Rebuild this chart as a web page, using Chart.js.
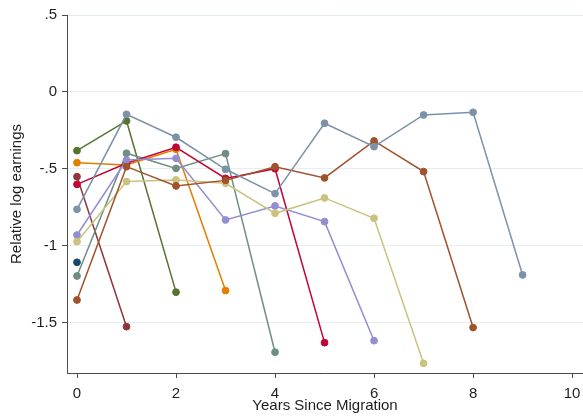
<!DOCTYPE html>
<html>
<head>
<meta charset="utf-8">
<script src="https://cdn.jsdelivr.net/npm/chart.js@4/dist/chart.umd.min.js"></script>
<style>
  html, body { margin: 0; padding: 0; background: #ffffff; }
  canvas { display: block; }
</style>
</head>
<body>
<canvas id="c" width="583" height="416"></canvas>
<script>
// Years since migration (x positions)
const years = [0, 1, 2, 3, 4, 5, 6, 7, 8, 9];

// Series values (relative log earnings), one per cohort
const navy      = [-1.106];
const maroon    = [-0.550, -1.524];
const green     = [-0.381, -0.188, -1.300];
const orange    = [-0.459, -0.474, -0.372, -1.290];
const teal      = [-1.195, -0.398, -0.496, -0.400, -1.690];
const cranberry = [-0.600, -0.463, -0.359, -0.561, -0.498, -1.628];
const lavender  = [-0.929, -0.442, -0.431, -0.831, -0.740, -0.842, -1.615];
const khaki     = [-0.972, -0.582, -0.571, -0.593, -0.788, -0.688, -0.820, -1.762];
const sienna    = [-1.351, -0.485, -0.610, -0.574, -0.485, -0.558, -0.318, -0.517, -1.530];
const emidblue  = [-0.762, -0.145, -0.294, -0.502, -0.660, -0.203, -0.355, -0.149, -0.132, -1.188];

// Tick labels
const xTicks = [0, 2, 4, 6, 8, 10];
const yTicks = [0.5, 0, -0.5, -1, -1.5];
const yTickLabels = ['.5', '0', '-.5', '-1', '-1.5'];

const seriesList = [
  { values: navy,      color: '#1a476f' },
  { values: maroon,    color: '#90353b' },
  { values: green,     color: '#55752f' },
  { values: orange,    color: '#e37e00' },
  { values: teal,      color: '#6e8e84' },
  { values: cranberry, color: '#c10534' },
  { values: lavender,  color: '#938dd2' },
  { values: khaki,     color: '#cac27e' },
  { values: sienna,    color: '#a0522d' },
  { values: emidblue,  color: '#7b92a8' }
];

const datasets = seriesList.map((s, i) => ({
  data: s.values.map((v, j) => ({ x: years[j], y: v })),
  borderColor: s.color,
  backgroundColor: s.color,
  pointBackgroundColor: s.color,
  pointBorderColor: s.color,
  borderWidth: 1.5,
  pointRadius: 3.4,
  pointBorderWidth: 1,
  tension: 0,
  clip: false,
  order: seriesList.length - i
}));

const FONT = "'Liberation Sans', Arial, sans-serif";
const TEXT = '#1e1e1e';
const AXIS = '#4a4a4a';

new Chart(document.getElementById('c'), {
  type: 'line',
  data: { datasets },
  options: {
    responsive: false,
    animation: false,
    devicePixelRatio: 1,
    layout: { autoPadding: false, padding: { top: 15, right: 0, left: 0, bottom: 0 } },
    plugins: { legend: { display: false }, tooltip: { enabled: false } },
    scales: {
      x: {
        type: 'linear',
        min: -0.202,
        max: 10.22,
        afterBuildTicks: (axis) => { axis.ticks = xTicks.map(v => ({ value: v })); },
        afterFit: (axis) => {
          axis.height = 43;
          axis.paddingLeft = 0;
          axis.paddingRight = 0;
        },
        ticks: {
          color: TEXT,
          font: { family: FONT, size: 15 },
          padding: 7,
          maxRotation: 0,
          autoSkip: false,
          callback: (v) => String(v)
        },
        grid: {
          drawOnChartArea: false,
          drawTicks: true,
          tickLength: 5,
          tickColor: AXIS,
          lineWidth: 1
        },
        border: { display: true, color: AXIS, width: 1 },
        title: {
          display: true,
          text: 'Years Since Migration',
          color: TEXT,
          font: { family: FONT, size: 15 },
          padding: { top: 0, bottom: 1 }
        }
      },
      y: {
        type: 'linear',
        min: -1.825,
        max: 0.5,
        afterBuildTicks: (axis) => { axis.ticks = yTicks.map(v => ({ value: v })); },
        afterFit: (axis) => { axis.width = 67; },
        ticks: {
          color: TEXT,
          font: { family: FONT, size: 15 },
          padding: 5,
          autoSkip: false,
          callback: (v) => {
            const k = yTicks.indexOf(v);
            return k >= 0 ? yTickLabels[k] : '';
          }
        },
        grid: {
          drawOnChartArea: true,
          drawTicks: true,
          tickLength: 5,
          color: '#e6eff0',
          tickColor: AXIS,
          lineWidth: 1
        },
        border: { display: true, color: AXIS, width: 1 },
        title: {
          display: true,
          text: 'Relative log earnings',
          color: TEXT,
          font: { family: FONT, size: 15 },
          padding: { top: 8, bottom: 0 }
        }
      }
    }
  }
});
</script>
</body>
</html>
